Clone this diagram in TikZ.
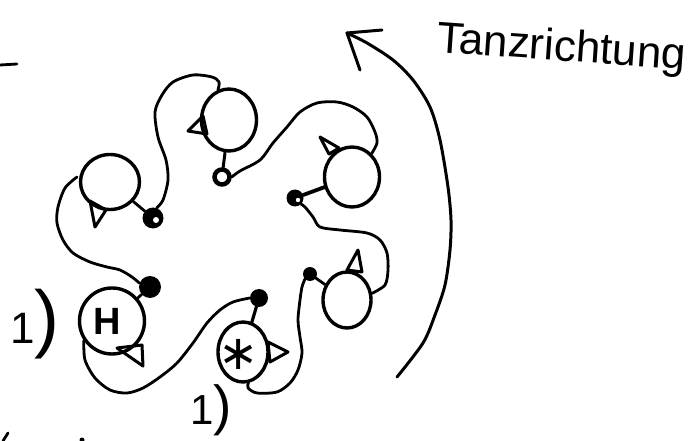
\documentclass[tikz,border=0pt]{standalone}
\usepackage{fontspec}
\setmainfont{Liberation Sans}
\newfontfamily\djv{DejaVu Sans}
\usetikzlibrary{shapes.geometric}
\begin{document}
\begin{tikzpicture}[x=1pt,y=-1pt,
  person/.style={draw, ellipse, line width=3.4pt, inner sep=0pt},
  nose/.style={draw, line width=3pt, line join=round},
  hand/.style={draw, line width=2.8pt, line cap=round, line join=round},
  blob/.style={circle, fill=black, inner sep=0pt},
  ring/.style={circle, draw, line width=4.5pt, fill=white, inner sep=0pt},
  lbl/.style={inner sep=0pt}
]
\useasboundingbox (0,0) rectangle (694,441);
\fill[white] (0,0) rectangle (694,441);

% persons
\node[person, minimum width=55pt, minimum height=62pt] (p1) at (229,120) {};
\node[person, minimum width=59pt, minimum height=55pt] (p2) at (110,182) {};
\node[person, minimum width=65pt, minimum height=66pt] (p3) at (112,321) {};
\node[person, minimum width=50pt, minimum height=60pt] (p4) at (243,352) {};
\node[person, minimum width=48pt, minimum height=56pt] (p5) at (347,300) {};
\node[person, minimum width=55pt, minimum height=60pt] (p6) at (352,177) {};

\node[lbl, font=\fontsize{38}{38}\selectfont\bfseries] (h) at (107,321) {H};
\node[lbl, font=\fontsize{48}{48}\selectfont\djv] (st) at (239,354) {∗};

% hands (dots)
\node[ring, minimum size=15pt] (d1) at (222,177) {};
\node[blob, minimum size=21pt] (d2) at (153,218) {};
\node[blob, minimum size=22pt] (d3) at (150,287) {};
\node[blob, minimum size=18pt] (d4) at (259,298) {};
\node[blob, minimum size=14pt] (d5) at (310,274) {};
\node[blob, minimum size=17pt] (d6) at (295,198) {};
\fill[white] (156,220) circle (3);
\fill[white] (298,200) circle (2.2);

% noses
\draw[nose] (203,116) -- (188,131) -- (207,134) -- cycle;
\draw[nose] (90,201) -- (95,227) -- (106,210) -- cycle;
\draw[nose] (117,348) -- (142,345) -- (143,366) -- cycle;
\draw[nose] (268,342) -- (288,352) -- (270,362) -- cycle;
\draw[nose] (347,270) -- (358,250) -- (362,272) -- cycle;
\draw[nose] (320,137) -- (329,154) -- (339,148) -- cycle;

% arms to own hand
\draw[hand, line width=3pt] (p1) -- (d1);
\draw[hand] (p2) -- (d2);
\draw[hand] (p3) -- (d3);
\draw[hand, line width=3.2pt] (p4) -- (d4);
\draw[hand] (d5) -- (p5);
\draw[hand, line width=3.8pt] (d6) -- (p6);

% arms to neighbour
\draw[hand] plot[smooth] coordinates {(p1.110) (219,82) (212,77) (193,75) (173,82) (162,95) (155,112) (158,137) (166,160) (168,180) (163,200) (d2.70)};
\draw[hand] plot[smooth] coordinates {(77,177) (65,188) (58,207) (57,223) (63,240) (73,253) (90,262) (107,267) (120,270) (132,277) (d3.160)};
\draw[hand] plot[smooth] coordinates {(p3.215) (85,360) (95,378) (110,390) (127,393) (143,388) (160,377) (177,363) (193,343) (207,323) (220,310) (233,302) (d4.west)};
\draw[hand] plot[smooth] coordinates {(p4.280) (248,388) (257,393) (277,392) (290,383) (298,370) (302,353) (300,337) (298,320) (300,300) (302,287) (d5.225)};
\draw[hand] plot[smooth] coordinates {(p5.15) (385,285) (388,270) (387,253) (380,240) (367,233) (340,230) (320,227) (313,217) (305,207) (d6.-45)};
\draw[hand] plot[smooth] coordinates {(p6.50) (377,143) (375,132) (367,117) (353,107) (337,102) (317,103) (300,112) (287,127) (273,143) (260,160) (240,171) (d1.east)};

% direction arrow
\coordinate (atip) at (347,33);
\coordinate (atail) at (397,377);
\draw[hand, line width=3pt] plot[smooth] coordinates {(atail) (423,343) (435,315) (445,285) (450,250) (451,220) (448,187) (440,140) (430,107) (413,80) (393,60) (367,43) (atip)};
\draw[hand, line width=3pt] (382,30) -- (atip) -- (360,70);

\node[lbl, anchor=base west, rotate=-4, font=\fontsize{44}{44}\selectfont] (tz) at (436,52) {Tanzrichtung};

\node[lbl, anchor=base west] (l1) at (10,343) {{\fontsize{44}{44}\selectfont 1}{\fontsize{75}{75}\selectfont )}};
\node[lbl, anchor=base west] (l2) at (190,424) {{\fontsize{42}{42}\selectfont 1}{\fontsize{55}{55}\selectfont )}};

% fragments at edges
\draw[hand] (0,65) -- (17,64);
\draw[hand] (3,441) -- (8,433);
\fill (82,440) circle (2.5);
\end{tikzpicture}
\end{document}
